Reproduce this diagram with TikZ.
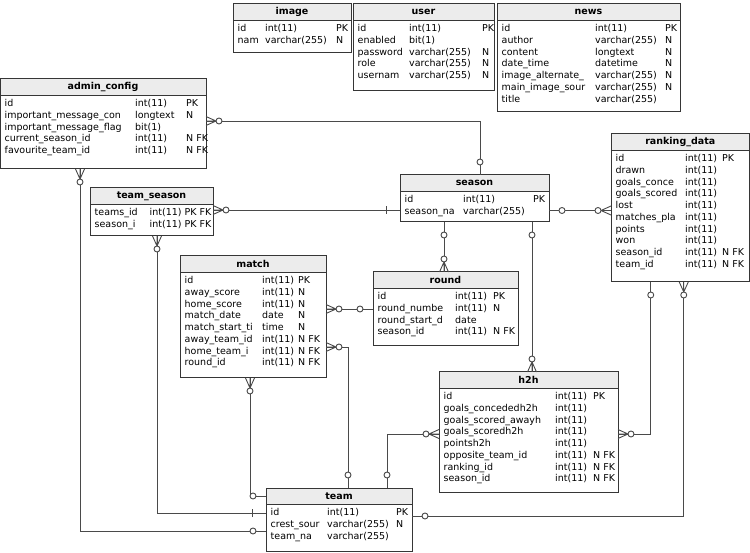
\documentclass[tikz,border=0pt]{standalone}
\usepackage{fontspec}
\setmainfont{DejaVu Sans}
\usepackage{array}
\usepackage{tikz}
\definecolor{er border}{HTML}{363636}
\definecolor{er line}{HTML}{4a4a4a}
\definecolor{er head}{HTML}{ececec}
\tikzset{
  er table/.style={
    rectangle,
    anchor=north west,
    draw=er border,
    line width=1pt,
    fill=white,
    inner sep=0pt,
    outer sep=0pt,
  },
  er title/.style={
    rectangle,
    anchor=north,
    draw=er border,
    line width=1pt,
    fill=er head,
    minimum height=16.5pt,
    inner sep=0pt,
    outer sep=0pt,
    font=\bfseries\fontsize{9.5}{11}\selectfont,
  },
  er body/.style={anchor=north west, inner sep=0pt, font=\fontsize{9.5}{11.7}\selectfont},
  er rel/.style={draw=er line, line width=0.9pt},
  zero many/.pic={
    \draw[er rel] (0,-4.5) -- (10,0) -- (0,4.5) (0,0) -- (10,0);
    \draw[er rel, fill=white] (13,0) circle (3pt);
  },
  zero one/.pic={\draw[er rel, fill=white] (13,0) circle (3pt);},
  one bar/.pic={\draw[er rel] (14,-4) -- (14,4);},
}
% name, x, y, width, height, title, col widths, rows
\newcommand{\ertable}[9]{%
  \node[er table, minimum width=#4pt, minimum height=#5pt] (#1) at (#2,#3) {};
  \node[er title, minimum width=#4pt] (#1-head) at (#1.north) {#6};
  \node[er body] (#1-rows) at ([xshift=4.5pt,yshift=-19.5pt]#1.north west)
    {\begin{tabular}{@{}p{#7pt}@{}p{#8pt}@{}l@{}}#9\end{tabular}};
}

\begin{document}
\begin{tikzpicture}[x=1pt, y=-1pt]
  \useasboundingbox (0,0) rectangle (750,553);

  % tables
  \ertable{image}{233}{4}{118}{49}{image}{27.5}{71}{%
    id & int(11) & PK\\ nam & varchar(255) & N}
  \ertable{user}{353}{4}{141}{87}{user}{51.5}{73}{%
    id & int(11) & PK\\ enabled & bit(1) & \\ password & varchar(255) & N\\
    role & varchar(255) & N\\ usernam & varchar(255) & N}
  \ertable{news}{497}{4}{183}{108}{news}{93.5}{70}{%
    id & int(11) & PK\\ author & varchar(255) & N\\ content & longtext & N\\
    date\_time & datetime & N\\ image\_alternate\_ & varchar(255) & N\\
    main\_image\_sour & varchar(255) & N\\ title & varchar(255) & }
  \ertable{admin_config}{0}{79}{206}{90}{admin\_config}{130.5}{51}{%
    id & int(11) & PK\\ important\_message\_con & longtext & N\\
    important\_message\_flag & bit(1) & \\ current\_season\_id & int(11) & N FK\\
    favourite\_team\_id & int(11) & N FK}
  \ertable{team_season}{90}{188}{123}{48}{team\_season}{55}{35}{%
    teams\_id & int(11) & PK FK\\ season\_i & int(11) & PK FK}
  \ertable{season}{400}{175}{149}{47}{season}{58.5}{70}{%
    id & int(11) & PK\\ season\_na & varchar(255) & }
  \ertable{ranking_data}{611}{134}{138.5}{148}{ranking\_data}{69.5}{37}{%
    id & int(11) & PK\\ drawn & int(11) & \\ goals\_conce & int(11) & \\
    goals\_scored & int(11) & \\ lost & int(11) & \\ matches\_pla & int(11) & \\
    points & int(11) & \\ won & int(11) & \\ season\_id & int(11) & N FK\\
    team\_id & int(11) & N FK}
  \ertable{match}{180}{256}{146}{122}{match}{77.5}{36}{%
    id & int(11) & PK\\ away\_score & int(11) & N\\ home\_score & int(11) & N\\
    match\_date & date & N\\ match\_start\_ti & time & N\\
    away\_team\_id & int(11) & N FK\\ home\_team\_i & int(11) & N FK\\
    round\_id & int(11) & N FK}
  \ertable{round}{373}{272}{145}{74}{round}{77.5}{38}{%
    id & int(11) & PK\\ round\_numbe & int(11) & N\\ round\_start\_d & date & \\
    season\_id & int(11) & N FK}
  \ertable{h2h}{439}{372}{179}{120}{h2h}{111.5}{38}{%
    id & int(11) & PK\\ goals\_concededh2h & int(11) & \\
    goals\_scored\_awayh & int(11) & \\ goals\_scoredh2h & int(11) & \\
    pointsh2h & int(11) & \\ opposite\_team\_id & int(11) & N FK\\
    ranking\_id & int(11) & N FK\\ season\_id & int(11) & N FK}
  \ertable{team}{266}{488}{146}{63}{team}{56.5}{69}{%
    id & int(11) & PK\\ crest\_sour & varchar(255) & N\\ team\_na & varchar(255) & }

  % relations
  \draw[er rel] ([yshift=3pt]admin_config.east) pic{zero many}
    -| ([xshift=5.5pt]season.north) pic[rotate=90]{zero one};
  \draw[er rel] ([yshift=2pt]team_season.east) pic{zero many}
    -- ([yshift=-11.5pt]season.west) pic[rotate=180]{one bar};
  \draw[er rel] ([xshift=-23pt]admin_config.south) pic[rotate=-90]{zero many}
    |- ([yshift=-11.5pt]team.west) pic[rotate=180]{zero one};
  \draw[er rel] ([xshift=5.5pt]team_season.south) pic[rotate=-90]{zero many}
    |- ([yshift=6.5pt]team.west) pic[rotate=180]{one bar};
  \draw[er rel] ([xshift=-3pt]match.south) pic[rotate=-90]{zero many}
    |- ([yshift=23.5pt]team.west) pic[rotate=180]{zero one};
  \draw[er rel] ([yshift=8pt]match.east) pic{zero many}
    -- (round.west) pic[rotate=180]{zero one};
  \draw[er rel] ([yshift=-30pt]match.east) pic{zero many}
    -| ([xshift=9pt]team.north) pic[rotate=90]{zero one};
  \draw[er rel] ([xshift=-30.5pt]season.south) pic[rotate=-90]{zero one}
    -- ([xshift=-1.5pt]round.north) pic[rotate=90]{zero many};
  \draw[er rel] ([xshift=57.5pt]season.south) pic[rotate=-90]{zero one}
    -- ([xshift=3.5pt]h2h.north) pic[rotate=90]{zero many};
  \draw[er rel] ([yshift=-12pt]season.east) pic{zero one}
    -- ([yshift=-2.5pt]ranking_data.west) pic[rotate=180]{zero many};
  \draw[er rel] ([xshift=-29.5pt]ranking_data.south) pic[rotate=-90]{zero one}
    |- ([yshift=-2pt]h2h.east) pic{zero many};
  \draw[er rel] ([xshift=3.5pt]ranking_data.south) pic[rotate=-90]{zero many}
    |- ([yshift=3.5pt]team.east) pic{zero one};
  \draw[er rel] ([yshift=-2pt]h2h.west) pic[rotate=180]{zero many}
    -| ([xshift=48pt]team.north) pic[rotate=90]{zero one};
\end{tikzpicture}
\end{document}
